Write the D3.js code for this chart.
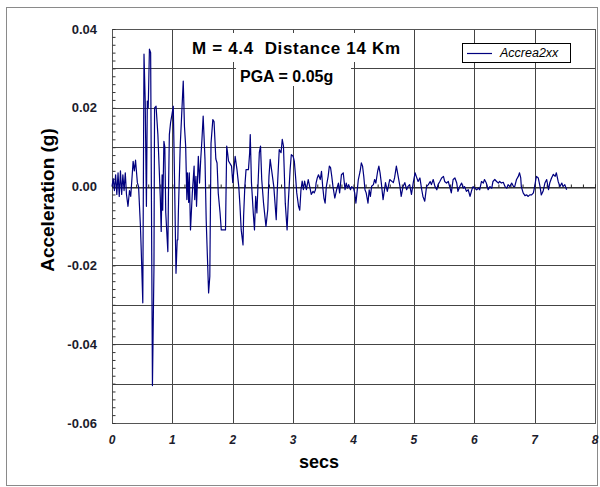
<!DOCTYPE html>
<html>
<head>
<meta charset="utf-8">
<script src="https://cdn.jsdelivr.net/npm/d3@7"></script>
<style>
  body { margin: 0; background: #fff; }
  svg { display: block; }
  text { font-family: "Liberation Sans", Arial, sans-serif; }
</style>
</head>
<body>
<svg width="600" height="487"></svg>
<script>
// Accelerogram samples (time in s, acceleration in g)
const timeSec = [
  0, 0.02, 0.04, 0.06, 0.08, 0.10, 0.12, 0.14, 0.16, 0.18, 0.20, 0.22, 0.24,
  0.265, 0.29, 0.31, 0.35, 0.37, 0.39, 0.42, 0.44, 0.47, 0.485, 0.51, 0.53,
  0.55, 0.57, 0.585, 0.60, 0.62, 0.64, 0.67, 0.695, 0.705, 0.73, 0.76, 0.80,
  0.815, 0.83, 0.84, 0.86, 0.875, 0.89, 0.925, 0.935, 0.95, 0.97, 0.99, 1.015,
  1.035, 1.06, 1.08, 1.09, 1.10, 1.13, 1.18, 1.20, 1.22, 1.24, 1.25, 1.27,
  1.28, 1.30, 1.33, 1.36, 1.37, 1.39, 1.40, 1.43, 1.45, 1.47, 1.49, 1.51,
  1.54, 1.56, 1.60, 1.62, 1.64, 1.67, 1.69, 1.72, 1.74, 1.76, 1.79, 1.81,
  1.85, 1.88, 1.90, 1.915, 1.93, 1.98, 2.00, 2.04, 2.07, 2.10, 2.12, 2.14,
  2.17, 2.18, 2.20, 2.22, 2.26, 2.28, 2.29, 2.31, 2.34, 2.36, 2.38, 2.40,
  2.42, 2.44, 2.46, 2.48, 2.51, 2.55, 2.58, 2.60, 2.62, 2.65, 2.68, 2.70,
  2.72, 2.74, 2.77, 2.80, 2.82, 2.84, 2.87, 2.90, 2.92, 2.95, 2.97, 3.00,
  3.02, 3.04, 3.06, 3.09, 3.11, 3.13, 3.15, 3.17, 3.19, 3.22, 3.25, 3.28,
  3.30, 3.33, 3.35, 3.37, 3.38, 3.40, 3.42, 3.45, 3.47, 3.49, 3.51, 3.53,
  3.55, 3.58, 3.60, 3.62, 3.64, 3.66, 3.69, 3.72, 3.75, 3.77, 3.80, 3.83,
  3.86, 3.88, 3.90, 3.92, 3.95, 3.97, 4.00, 4.02, 4.04, 4.06, 4.08, 4.11,
  4.13, 4.15, 4.17, 4.19, 4.21, 4.24, 4.26, 4.28, 4.30, 4.33, 4.35, 4.37,
  4.40, 4.42, 4.44, 4.46, 4.49, 4.53, 4.56, 4.60, 4.66, 4.68, 4.71, 4.74,
  4.77, 4.79, 4.82, 4.85, 4.88, 4.90, 4.93, 4.96, 4.99, 5.02, 5.04, 5.07,
  5.10, 5.13, 5.15, 5.18, 5.21, 5.24, 5.27, 5.29, 5.32, 5.35, 5.38, 5.40,
  5.43, 5.46, 5.49, 5.51, 5.54, 5.57, 5.60, 5.62, 5.65, 5.68, 5.71, 5.73,
  5.76, 5.79, 5.82, 5.84, 5.87, 5.90, 5.93, 5.96, 5.98, 6.01, 6.04, 6.07,
  6.09, 6.12, 6.15, 6.17, 6.20, 6.23, 6.26, 6.29, 6.31, 6.34, 6.37, 6.40,
  6.42, 6.45, 6.48, 6.51, 6.54, 6.56, 6.59, 6.62, 6.65, 6.67, 6.70, 6.73,
  6.75, 6.77, 6.78, 6.81, 6.84, 6.87, 6.89, 6.92, 6.95, 6.98, 7.00, 7.02,
  7.03, 7.06, 7.09, 7.11, 7.14, 7.17, 7.20, 7.23, 7.25, 7.28, 7.31, 7.34,
  7.36, 7.39, 7.42, 7.45, 7.47, 7.50, 7.53
];
const accelG = [
  0, 0.002, -0.001, 0.003, -0.002, 0.0035, -0.0025, 0.004, -0.002, 0.003, -0.001, 0.0035, -0.002,
  -0.005, -0.001, -0.0025, 0.0064, 0.004, 0.0067, 0.001, 0.0, -0.0097, -0.0165, -0.0295, 0.0336,
  0.0217, -0.005, 0.0217, 0.020, 0.0349, 0.034, -0.0505, -0.0206, 0.020, 0.0204, 0.0132, -0.0028,
  -0.0114, 0.003, -0.006, 0.0115, 0.010, -0.0065, -0.0165, -0.002, 0.0132, 0.0162, 0.018, 0.0204,
  0.0026, -0.022, -0.0135, -0.0135, -0.006, 0.0103, 0.0268, 0.0153, 0.0103, -0.0033, 0.0035, -0.004,
  0.0035, -0.011, -0.0017, 0.0052, -0.0033, 0.0026, -0.005, 0.0077, 0.0009, 0.007, 0.012, 0.0179,
  0.007, -0.0084, -0.027, -0.0228, 0.011, 0.017, 0.0165, 0.007, 0.006, -0.0017, -0.0067, -0.011,
  -0.011, -0.011, 0.0103, 0.0085, 0.0065, 0.0052, 0.001, 0.0077, 0.0043, 0.0, -0.005, -0.011,
  -0.0148, -0.0075, 0.0, 0.0043, 0.0043, 0.0086, 0.0132, 0.001, -0.0067, -0.011, -0.0025, -0.0067,
  0.001, 0.0086, 0.0103, 0.0018, -0.0042, -0.0101, -0.0058, 0.0026, 0.0069, 0.0035, 0.0, -0.0042,
  -0.0084, 0.0, 0.0094, 0.0086, 0.012, 0.0103, -0.0042, -0.011, -0.004, 0.0043, 0.0081, 0.0077,
  0.0064, 0.0026, -0.0016, -0.005, -0.006, -0.0008, 0.0014, -0.0008, 0.0014, -0.0008, 0.0018, -0.0004,
  -0.002, -0.0012, -0.0016, -0.0008, 0.0009, 0.0022, 0.003, 0.0018, 0.0039, 0.0, -0.0029, -0.0042,
  0.0, 0.0026, 0.0052, 0.0048, 0.0026, 0.0, -0.0029, -0.0008, 0.0009, -0.0016, 0.003, 0.0035,
  -0.0008, 0.0009, -0.0004, 0.0005, -0.0008, 0.0, -0.0004, -0.0016, -0.0042, -0.0012, 0.0018, 0.0039,
  0.006, 0.0052, 0.0026, -0.0008, -0.0016, -0.0042, -0.0008, -0.0025, 0.0001, 0.0005, 0.0018, 0.0009,
  0.0039, 0.0052, 0.0035, 0.001, -0.0033, 0.001, -0.0012, 0.0018, 0.001, 0.0022, 0.0052, 0.0026,
  0.0, -0.0025, 0.0, 0.001, -0.0008, 0.0, 0.0005, -0.002, 0.001, 0.0035, 0.0026, 0.0013,
  0.0022, -0.0008, -0.0025, -0.0037, 0.0, 0.0005, 0.0013, 0.0005, 0.0018, 0.0, -0.0008, 0.0005,
  0.0013, 0.0022, 0.0026, 0.0013, 0.0009, 0.0013, -0.0004, -0.0016, 0.0018, 0.0022, 0.0009, -0.0012,
  0.0, 0.0009, -0.0004, 0.0, -0.0012, -0.0008, -0.0025, -0.0008, 0.0, -0.0004, -0.0008, -0.0004,
  -0.0008, 0.0013, 0.0009, 0.0018, 0.0009, -0.0008, 0.0, -0.0004, 0.0013, 0.0018, 0.0013, 0.0009,
  0.0013, 0.0009, 0.0011, 0.0, -0.0004, 0.0005, 0.0, 0.0009, 0.0, 0.0, 0.0018, 0.0026,
  0.0035, 0.0022, 0.0, -0.0016, -0.0023, -0.0021, -0.0025, -0.0021, -0.0021, -0.0016, 0.0, 0.0018,
  0.0026, 0.0022, 0.0, -0.0021, -0.0012, 0.0009, 0.0018, -0.0008, 0.0009, 0.0022, 0.0031, 0.0026,
  0.0035, 0.0013, 0.0, 0.0009, 0.0, 0.0005, -0.0008
];

const yLabelTicks = [0.04, 0.02, 0.00, -0.02, -0.04, -0.06];
const xLabelTicks = [0, 1, 2, 3, 4, 5, 6, 7, 8];
const seriesName = "Accrea2xx";
const titleLine = "M = 4.4  Distance 14 Km";
const pgaLine = "PGA = 0.05g";

const svg = d3.select("svg");
const plot = { left: 112, right: 595, top: 29, bottom: 423 };

const x = d3.scaleLinear().domain([0, 8]).range([plot.left, plot.right]);
const y = d3.scaleLinear().domain([-0.06, 0.04]).range([plot.bottom, plot.top]);
const px = v => Math.round(v) + 0.5;
// plain hyphen for negatives, two decimals
const fmtY = d => d.toFixed(2);

// outer chart frame
svg.append("rect")
    .attr("x", 6.5).attr("y", 7.5)
    .attr("width", 591).attr("height", 478)
    .attr("fill", "#fff")
    .attr("stroke", "#8a8a8a");

// gridlines every 0.01 g and every second
const grid = svg.append("g").attr("stroke", "#444").attr("stroke-width", 1);
grid.selectAll("line.h")
    .data(d3.range(-6, 5).map(i => i / 100))
    .enter().append("line")
    .attr("x1", plot.left).attr("x2", plot.right)
    .attr("y1", d => px(y(d))).attr("y2", d => px(y(d)));
grid.selectAll("line.v")
    .data(xLabelTicks)
    .enter().append("line")
    .attr("x1", d => px(x(d))).attr("x2", d => px(x(d)))
    .attr("y1", plot.top).attr("y2", plot.bottom);

// white boxes behind the annotation text
svg.append("rect")
    .attr("x", 188).attr("y", 33).attr("width", 217).attr("height", 29)
    .attr("fill", "#fff");
svg.append("rect")
    .attr("x", 236).attr("y", 62).attr("width", 115).attr("height", 24)
    .attr("fill", "#fff");

// plot frame
svg.append("rect")
    .attr("x", px(plot.left)).attr("y", px(plot.top))
    .attr("width", Math.round(plot.right - plot.left))
    .attr("height", Math.round(plot.bottom - plot.top))
    .attr("fill", "none")
    .attr("stroke", "#555");

// y axis: minor ticks inside, labels every 0.02
const yAxis = d3.axisLeft(y)
    .tickValues(d3.range(-30, 21).map(i => i * 0.002))
    .tickSize(-3)
    .tickFormat("");
svg.append("g")
    .attr("transform", `translate(${px(plot.left)},0)`)
    .call(yAxis)
    .call(g => g.select(".domain").remove())
    .call(g => g.selectAll(".tick line").attr("stroke", "#333"));

svg.append("g")
    .selectAll("text")
    .data(yLabelTicks)
    .enter().append("text")
    .attr("x", 97)
    .attr("y", d => y(d) + 4.5)
    .attr("text-anchor", "end")
    .attr("font-size", 13)
    .attr("font-weight", "bold")
    .attr("fill", "#1c1c2c")
    .text(fmtY);

// x axis crosses at zero, with minor ticks every 0.2 s
const xAxis = d3.axisTop(x)
    .tickValues(d3.range(0, 41).map(i => i * 0.2))
    .tickSize(3)
    .tickFormat("");
svg.append("g")
    .attr("transform", `translate(0,${px(y(0))})`)
    .call(xAxis)
    .call(g => g.select(".domain").attr("stroke", "#222"))
    .call(g => g.selectAll(".tick line").attr("stroke", "#222"));

svg.append("g")
    .selectAll("text")
    .data(xLabelTicks)
    .enter().append("text")
    .attr("x", d => x(d))
    .attr("y", 444)
    .attr("text-anchor", "middle")
    .attr("font-size", 12)
    .attr("font-weight", "bold")
    .attr("font-style", "italic")
    .attr("fill", "#1c1c2c")
    .text(d => d);

// axis titles
svg.append("text")
    .attr("x", 319).attr("y", 468)
    .attr("text-anchor", "middle")
    .attr("font-size", 18)
    .attr("font-weight", "bold")
    .text("secs");

svg.append("text")
    .attr("transform", "translate(54,200) rotate(-90)")
    .attr("text-anchor", "middle")
    .attr("font-size", 19)
    .attr("font-weight", "bold")
    .text("Acceleration (g)");

// annotation text
svg.append("text")
    .attr("x", 192).attr("y", 54)
    .attr("font-size", 17)
    .attr("font-weight", "bold")
    .attr("textLength", 208)
    .attr("lengthAdjust", "spacing")
    .style("white-space", "pre")
    .text(titleLine);
svg.append("text")
    .attr("x", 240).attr("y", 82)
    .attr("font-size", 16)
    .attr("font-weight", "bold")
    .text(pgaLine);

// accelerogram trace
const series = timeSec.map((t, i) => ({ t: t, a: accelG[i] }));
const line = d3.line()
    .x(d => x(d.t))
    .y(d => y(d.a));
svg.append("path")
    .datum(series)
    .attr("fill", "none")
    .attr("stroke", "#00007f")
    .attr("stroke-width", 1.2)
    .attr("stroke-linejoin", "round")
    .attr("d", line);

// legend
const legend = svg.append("g").attr("transform", "translate(462,43)");
legend.append("rect")
    .attr("x", 0.5).attr("y", 0.5)
    .attr("width", 108).attr("height", 19)
    .attr("fill", "#fff")
    .attr("stroke", "#000");
legend.append("line")
    .attr("x1", 5).attr("x2", 30)
    .attr("y1", 10.5).attr("y2", 10.5)
    .attr("stroke", "#00007f")
    .attr("stroke-width", 1.2);
legend.append("text")
    .attr("x", 38).attr("y", 14)
    .attr("font-size", 12.5)
    .attr("font-style", "italic")
    .text(seriesName);
</script>
</body>
</html>
